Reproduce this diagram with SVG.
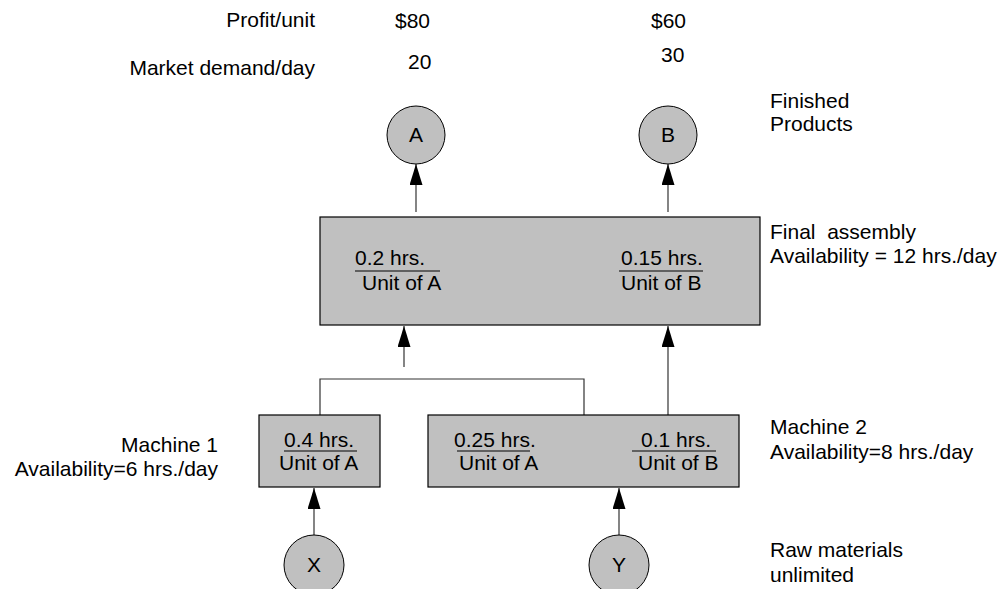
<svg xmlns="http://www.w3.org/2000/svg" width="1003" height="589" viewBox="0 0 1003 589">
<style>
text{font-family:"Liberation Sans",Arial,sans-serif;font-size:21px;fill:#000}
.box{fill:#c0c0c0;stroke:#000;stroke-width:1.2}
.node{fill:#c0c0c0;stroke:#000;stroke-width:1}
.ln{fill:none;stroke:#333;stroke-width:1.2}
.frac{stroke:#000;stroke-width:1.2}
.e{text-anchor:end}
.m{text-anchor:middle}
</style>
<defs>
<marker id="arr" markerUnits="userSpaceOnUse" markerWidth="21" markerHeight="13" refX="21" refY="6.5" orient="auto" viewBox="0 0 21 13">
<path d="M0,0 L21,6.5 L0,13 Z" fill="#000"/>
</marker>
</defs>
<rect width="1003" height="589" fill="#fff"/>
<g id="labels">
<text x="315" y="27" class="e">Profit/unit</text>
<text x="395" y="28">$80</text>
<text x="651" y="28">$60</text>
<text x="315" y="75" class="e">Market demand/day</text>
<text x="408" y="69">20</text>
<text x="661" y="62">30</text>
<text x="770" y="108">Finished</text>
<text x="770" y="131">Products</text>
<text x="770" y="239" style="white-space:pre">Final  assembly</text>
<text x="770" y="263">Availability = 12 hrs./day</text>
<text x="218" y="452" class="e">Machine 1</text>
<text x="218" y="476" class="e">Availability=6 hrs./day</text>
<text x="770" y="434">Machine 2</text>
<text x="770" y="459">Availability=8 hrs./day</text>
<text x="770" y="557">Raw materials</text>
<text x="770" y="582">unlimited</text>
</g>
<g id="connectors">
<line class="ln" x1="416" y1="212" x2="416" y2="164" marker-end="url(#arr)"/>
<line class="ln" x1="668" y1="212" x2="668" y2="164" marker-end="url(#arr)"/>
<line class="ln" x1="404" y1="367" x2="404" y2="326" marker-end="url(#arr)"/>
<path class="ln" d="M320,415 V379 H584 V415"/>
<line class="ln" x1="668" y1="415" x2="668" y2="326" marker-end="url(#arr)"/>
<line class="ln" x1="314" y1="535" x2="314" y2="488" marker-end="url(#arr)"/>
<line class="ln" x1="619" y1="535" x2="619" y2="488" marker-end="url(#arr)"/>
</g>
<g id="nodeA"><circle class="node" cx="416" cy="135" r="29"/><text x="416" y="142" class="m">A</text></g>
<g id="nodeB"><circle class="node" cx="668" cy="135" r="29"/><text x="668" y="142" class="m">B</text></g>
<g id="final">
<rect class="box" x="320" y="217" width="440" height="108"/>
<text x="355" y="265">0.2 hrs.</text>
<line class="frac" x1="355" y1="271" x2="440" y2="271"/>
<text x="362" y="290">Unit of A</text>
<text x="621" y="265">0.15 hrs.</text>
<line class="frac" x1="619" y1="271" x2="703" y2="271"/>
<text x="621" y="290">Unit of B</text>
</g>
<g id="machine1">
<rect class="box" x="259" y="415" width="121" height="72"/>
<text x="284" y="447">0.4 hrs.</text>
<line class="frac" x1="284" y1="451" x2="357" y2="451"/>
<text x="279" y="470">Unit of A</text>
</g>
<g id="machine2">
<rect class="box" x="428" y="415" width="311" height="72"/>
<text x="454" y="447">0.25 hrs.</text>
<line class="frac" x1="457" y1="451" x2="530" y2="451"/>
<text x="459" y="470">Unit of A</text>
<text x="641" y="447">0.1 hrs.</text>
<line class="frac" x1="632" y1="451" x2="716" y2="451"/>
<text x="638" y="470">Unit of B</text>
</g>
<g id="nodeX"><circle class="node" cx="314" cy="565" r="30"/><text x="314" y="572" class="m">X</text></g>
<g id="nodeY"><circle class="node" cx="619" cy="565" r="30"/><text x="619" y="572" class="m">Y</text></g>
</svg>
